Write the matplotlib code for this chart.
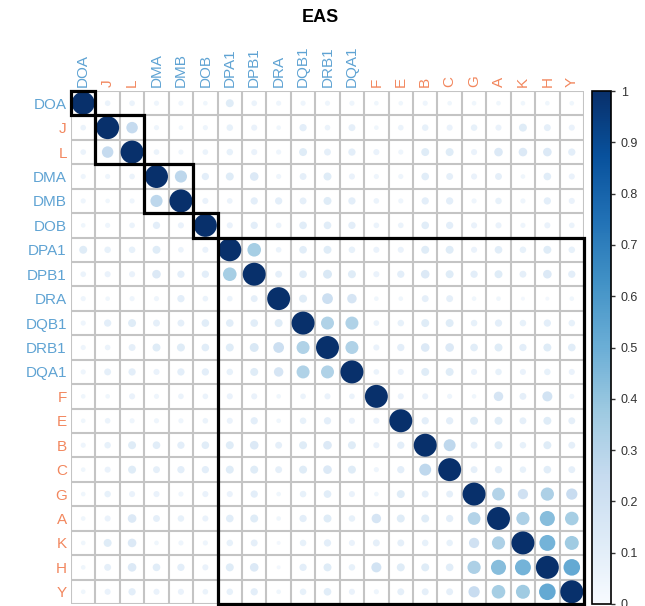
import numpy as np
import matplotlib
matplotlib.use("Agg")
import matplotlib.pyplot as plt
from matplotlib.patches import Circle, Rectangle
from matplotlib.cm import ScalarMappable
from matplotlib.colors import Normalize

plt.rcParams['font.family'] = ['Liberation Sans', 'DejaVu Sans']

genes = ["DOA", "J", "L", "DMA", "DMB", "DOB", "DPA1", "DPB1", "DRA", "DQB1",
         "DRB1", "DQA1", "F", "E", "B", "C", "G", "A", "K", "H", "Y"]
gene_class = ["II", "I", "I", "II", "II", "II", "II", "II", "II", "II",
              "II", "II", "I", "I", "I", "I", "I", "I", "I", "I", "I"]

# upper triangle: correlation of each gene with the genes after it
upper_rows = [
    [0.06, 0.06, 0.05, 0.05, 0.04, 0.12, 0.06, 0.05, 0.05, 0.05, 0.05, 0.04, 0.04, 0.05, 0.04, 0.04, 0.04, 0.04, 0.04, 0.04],
    [0.25, 0.05, 0.04, 0.05, 0.08, 0.07, 0.04, 0.10, 0.06, 0.09, 0.04, 0.06, 0.08, 0.07, 0.08, 0.07, 0.12, 0.09, 0.07],
    [0.06, 0.05, 0.06, 0.08, 0.07, 0.05, 0.12, 0.09, 0.10, 0.07, 0.05, 0.12, 0.12, 0.07, 0.14, 0.14, 0.14, 0.10],
    [0.28, 0.10, 0.12, 0.14, 0.05, 0.09, 0.12, 0.07, 0.05, 0.05, 0.11, 0.09, 0.07, 0.09, 0.04, 0.11, 0.07],
    [0.07, 0.06, 0.10, 0.10, 0.09, 0.12, 0.10, 0.06, 0.05, 0.10, 0.10, 0.05, 0.08, 0.05, 0.10, 0.07],
    [0.07, 0.10, 0.06, 0.11, 0.11, 0.10, 0.06, 0.06, 0.11, 0.10, 0.07, 0.07, 0.05, 0.07, 0.06],
    [0.35, 0.06, 0.11, 0.12, 0.08, 0.07, 0.07, 0.12, 0.12, 0.07, 0.11, 0.08, 0.12, 0.08],
    [0.09, 0.11, 0.15, 0.12, 0.07, 0.10, 0.14, 0.12, 0.10, 0.12, 0.09, 0.14, 0.10],
    [0.12, 0.22, 0.17, 0.04, 0.04, 0.09, 0.09, 0.04, 0.04, 0.03, 0.03, 0.04],
    [0.32, 0.32, 0.06, 0.08, 0.12, 0.12, 0.08, 0.10, 0.08, 0.10, 0.08],
    [0.32, 0.07, 0.10, 0.14, 0.14, 0.11, 0.12, 0.10, 0.12, 0.11],
    [0.06, 0.07, 0.12, 0.12, 0.07, 0.08, 0.07, 0.08, 0.07],
    [0.07, 0.07, 0.05, 0.04, 0.17, 0.09, 0.19, 0.05],
    [0.10, 0.10, 0.12, 0.12, 0.09, 0.12, 0.09],
    [0.27, 0.09, 0.12, 0.08, 0.12, 0.09],
    [0.09, 0.10, 0.08, 0.11, 0.09],
    [0.31, 0.20, 0.33, 0.24],
    [0.33, 0.43, 0.35],
    [0.48, 0.37],
    [0.52],
]

# clusters (outlined with black boxes): first and last index
clusters = [(0, 0), (1, 2), (3, 4), (5, 5), (6, 20)]

n = len(genes)
corr = np.eye(n)
for i, row in enumerate(upper_rows):
    for k, v in enumerate(row):
        j = i + 1 + k
        corr[i, j] = v
        corr[j, i] = v

blue_lab = "#5fa3d3"
orange_lab = "#f2875e"

W, H = 645, 606
fig = plt.figure(figsize=(W / 100, H / 100), dpi=100)
ax = fig.add_axes([71 / W, 2 / H, 513 / W, 513 / H])

cmap = plt.get_cmap("Blues")
norm = Normalize(0, 1)

ax.set_xlim(-0.5, n - 0.5)
ax.set_ylim(n - 0.5, -0.5)

# grid
for k in range(n + 1):
    ax.plot([k - 0.5, k - 0.5], [-0.5, n - 0.5], color="#c4c4c4", lw=1.5, zorder=1)
    ax.plot([-0.5, n - 0.5], [k - 0.5, k - 0.5], color="#c4c4c4", lw=1.5, zorder=1)

for i in range(n):
    for j in range(n):
        v = corr[i, j]
        r = 0.47 * np.sqrt(abs(v))
        ax.add_patch(Circle((j, i), r, facecolor=cmap(norm(v)), edgecolor="none", zorder=2))

for a, b in clusters:
    ax.add_patch(Rectangle((a - 0.5, a - 0.5), b - a + 1, b - a + 1, fill=False,
                           edgecolor="black", lw=2.3, zorder=3, clip_on=False))

ax.xaxis.tick_top()
ax.set_xticks(range(n))
ax.set_yticks(range(n))
ax.set_xticklabels(genes, rotation=90, fontsize=11)
ax.set_yticklabels(genes, fontsize=11)
ax.tick_params(length=0, pad=3)
for lbl, c in zip(ax.get_xticklabels(), gene_class):
    lbl.set_color(blue_lab if c == "II" else orange_lab)
for lbl, c in zip(ax.get_yticklabels(), gene_class):
    lbl.set_color(blue_lab if c == "II" else orange_lab)
for s in ax.spines.values():
    s.set_visible(False)

fig.text(320 / W, 1 - 18 / H, "EAS", ha="center", va="center", fontsize=13, fontweight="bold")

cax = fig.add_axes([592 / W, 2 / H, 19 / W, 513 / H])
cb = fig.colorbar(ScalarMappable(norm=norm, cmap=cmap), cax=cax)
cb.set_ticks(np.round(np.arange(0, 1.01, 0.1), 1))
cb.set_ticklabels(["0", "0.1", "0.2", "0.3", "0.4", "0.5", "0.6", "0.7", "0.8", "0.9", "1"])
cax.tick_params(labelsize=9, length=3, width=1, pad=4, colors="#333333")
cb.outline.set_linewidth(1.2)

fig.savefig("out.png", dpi=100)
